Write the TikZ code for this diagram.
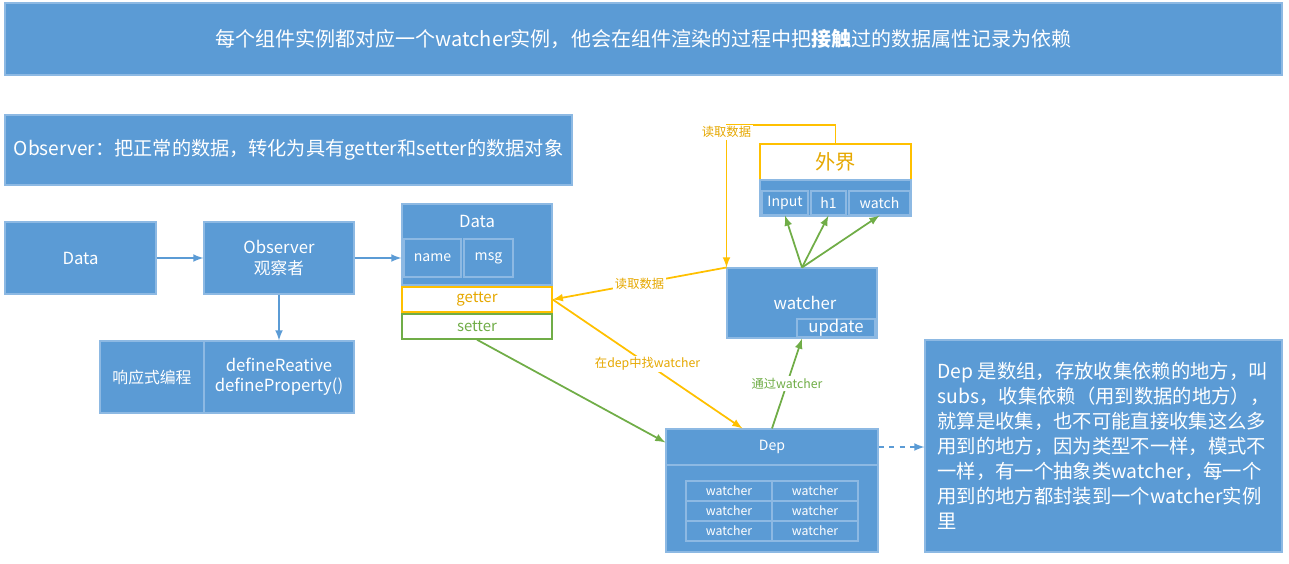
\documentclass[tikz,border=0pt]{standalone}
\usepackage{fontspec}
\setmainfont{Noto Sans CJK SC}
\usetikzlibrary{arrows, calc, positioning}
\definecolor{boxBlue}{HTML}{5B9BD5}
\definecolor{edgeBlue}{HTML}{8DB9E3}
\definecolor{lineYellow}{HTML}{FFC000}
\definecolor{textYellow}{HTML}{E6A800}
\definecolor{lineGreen}{HTML}{70AD47}
\newcommand{\sizeText}[1]{\fontsize{#1}{#1}\selectfont}
\tikzset{
    blueBox/.style={rectangle, draw=edgeBlue, fill=boxBlue, text=white, inner sep=0pt, line width=0.6pt},
    whiteBox/.style={rectangle, draw=#1, fill=white, text=#1, inner sep=0pt, line width=0.8pt},
    blueEdge/.style={->, >=latex, boxBlue, line width=1pt},
    yellowEdge/.style={->, >=latex, lineYellow, text=textYellow, line width=1pt},
    greenEdge/.style={->, >=latex, lineGreen, line width=1pt},
    edgeLabel/.style={fill=white, inner sep=1pt, font=\sizeText{7}},
}

\begin{document}
\begin{tikzpicture}[x=0.2mm, y=-0.2mm]
    \useasboundingbox (0,0) rectangle (1289,563);

    % banners
    \node[blueBox, minimum width=255.4mm, minimum height=14.4mm, font=\sizeText{11.4}] (banner) at (643.5,39)
        {每个组件实例都对应一个watcher实例，他会在组件渲染的过程中把\textbf{接触}过的数据属性记录为依赖};
    \node[blueBox, minimum width=113.4mm, minimum height=14mm, font=\sizeText{10.9}] (obsBanner) at (288.5,150)
        {Observer：把正常的数据，转化为具有getter和setter的数据对象};

    % left chain
    \node[blueBox, minimum width=30.2mm, minimum height=14.4mm, font=\sizeText{9.5}] (dataL) at (80.5,258) {Data};
    \node[blueBox, minimum width=30mm, minimum height=14.4mm, font=\sizeText{9.5}, align=center] (observer) at (279,258) {Observer\\[2pt]观察者};
    \node[blueBox, minimum width=20.8mm, minimum height=14.4mm, font=\sizeText{9}] (reactive) at (152,377) {响应式编程};
    \node[blueBox, minimum width=30mm, minimum height=14.4mm, font=\sizeText{9.5}, align=center] (define) at (279,377) {defineReative\\[2pt]defineProperty()};

    \draw[blueEdge] (dataL) -- (observer);
    \draw[blueEdge] (observer) -- (define);

    % data object
    \node[blueBox, minimum width=30mm, minimum height=16.2mm] (dataM) at (477,244.5) {};
    \node[font=\sizeText{9.5}, text=white] (dataTitle) at (477,221) {Data};
    \node[blueBox, minimum width=11.4mm, minimum height=7.6mm, font=\sizeText{8}] (name) at (432.5,258) {name};
    \node[blueBox, minimum width=9.8mm, minimum height=7.6mm, font=\sizeText{8}] (msg) at (488.5,258) {msg};
    \node[whiteBox=lineYellow, text=textYellow, minimum width=30mm, minimum height=5mm, font=\sizeText{8.5}] (getter) at (477,299.5) {getter};
    \node[whiteBox=lineGreen, minimum width=30mm, minimum height=5mm, font=\sizeText{8.5}] (setter) at (477,326.5) {setter};

    \draw[blueEdge] (observer.east) -- (observer.east -| dataM.west);

    % outside world
    \node[whiteBox=lineYellow, text=textYellow, minimum width=30.2mm, minimum height=7.2mm, font=\sizeText{11.5}] (outer) at (835.5,162) {外界};
    \node[blueBox, minimum width=30.2mm, minimum height=7.2mm] (strip) at (835.5,198) {};
    \node[blueBox, minimum width=9.2mm, minimum height=4.8mm, font=\sizeText{8}] (input) at (785,203) {Input};
    \node[blueBox, minimum width=7mm, minimum height=4.8mm, font=\sizeText{8}] (hone) at (828.5,203) {h1};
    \node[blueBox, minimum width=12.2mm, minimum height=4.8mm, font=\sizeText{8}] (watch) at (879.5,203) {watch};

    % watcher
    \node[blueBox, minimum width=30mm, minimum height=14mm] (watcher) at (802,303) {};
    \node[font=\sizeText{9.5}, text=white] (watcherText) at (805,303) {watcher};
    \node[blueBox, minimum width=15.6mm, minimum height=3.6mm, font=\sizeText{9.5}] (update) at (836,328) {update};

    \draw[greenEdge] (watcher.north) -- (input.south);
    \draw[greenEdge] (watcher.north) -- (hone.south);
    \draw[greenEdge] (watcher.north) -- (watch.south);

    \draw[yellowEdge] (outer.north) -- ++(0,-18) -| node[pos=0.5, edgeLabel, yshift=-1.4mm] {读取数据} (watcher.north west);
    \draw[yellowEdge] (watcher.north west) -- node[edgeLabel] {读取数据} (getter.east);

    % dep
    \node[blueBox, minimum width=42.4mm, minimum height=24.6mm] (dep) at (772,490.5) {};
    \node[blueBox, minimum width=42.4mm, minimum height=7.2mm, font=\sizeText{8}] (depTitle) at (772,447) {Dep};
    \foreach \r/\y in {1/491, 2/511, 3/531} {
        \node[blueBox, minimum width=17.2mm, minimum height=4mm, font=\sizeText{7}] (cellL\r) at (729,\y) {watcher};
        \node[blueBox, minimum width=17.2mm, minimum height=4mm, font=\sizeText{7}] (cellR\r) at (815,\y) {watcher};
    }

    \draw[yellowEdge] (getter.east) -- node[edgeLabel] {在dep中找watcher} ($(dep.north west)+(77,0)$);
    \draw[greenEdge] (setter.south) -- ($(dep.north west)+(0,14)$);
    \draw[greenEdge] (dep.north) -- node[edgeLabel] {通过watcher} (watcher.south);

    % note
    \node[blueBox, minimum width=71.4mm, minimum height=42.4mm, align=left, font=\fontsize{11}{14.2}\selectfont] (note) at (1103.5,446)
        {Dep 是数组，存放收集依赖的地方，叫\\
         subs，收集依赖（用到数据的地方），\\
         就算是收集，也不可能直接收集这么多\\
         用到的地方，因为类型不一样，模式不\\
         一样，有一个抽象类watcher，每一个\\
         用到的地方都封装到一个watcher实例\\
         里};

    \draw[blueEdge, dashed] (depTitle.east) -- (depTitle.east -| note.west);
\end{tikzpicture}
\end{document}
